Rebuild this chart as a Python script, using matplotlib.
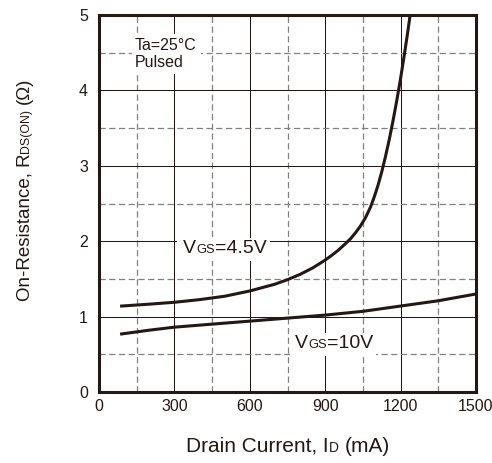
import matplotlib
matplotlib.use('Agg')
import matplotlib.pyplot as plt
from matplotlib.transforms import IdentityTransform
from matplotlib.patches import Rectangle

plt.rcParams['font.family'] = ['Liberation Sans', 'DejaVu Sans']
plt.rcParams['lines.scale_dashes'] = False

INK = '#231815'

# ---- data ----
id_45 = [90, 200, 300, 400, 500, 600, 700, 750, 800, 850, 900, 925, 950, 975,
         1000, 1020, 1040, 1060, 1080, 1095, 1110, 1125, 1140, 1155, 1170,
         1185, 1200, 1215, 1230, 1240]
r_45 = [1.14, 1.165, 1.19, 1.225, 1.27, 1.34, 1.43, 1.49, 1.56, 1.645, 1.75,
        1.81, 1.875, 1.95, 2.03, 2.11, 2.20, 2.31, 2.45, 2.585, 2.74, 2.92,
        3.125, 3.35, 3.60, 3.87, 4.16, 4.475, 4.81, 5.05]

id_10 = [90, 200, 300, 450, 600, 750, 900, 1050, 1200, 1350, 1500]
r_10 = [0.77, 0.82, 0.86, 0.90, 0.94, 0.98, 1.02, 1.07, 1.14, 1.21, 1.30]

x_major = [0, 300, 600, 900, 1200, 1500]
x_minor = [150, 450, 750, 1050, 1350]
y_major = [0, 1, 2, 3, 4, 5]
y_minor = [0.5, 1.5, 2.5, 3.5, 4.5]
x_ticklabels = ['0', '300', '600', '900', '1200', '1500']
y_ticklabels = ['0', '1', '2', '3', '4', '5']

# ---- figure ----
W, H = 492, 463
fig = plt.figure(figsize=(W / 100, H / 100), dpi=100)
ax = fig.add_axes([99 / W, 1 - 392 / H, 377 / W, 377 / H])
ax.set_xlim(0, 1500)
ax.set_ylim(0, 5)
ax.set_xticks(x_major)
ax.set_xticklabels(x_ticklabels)
ax.set_xticks(x_minor, minor=True)
ax.set_yticks(y_major)
ax.set_yticklabels(y_ticklabels)
ax.set_yticks(y_minor, minor=True)
ax.set_axisbelow(True)
ax.grid(which='major', color=INK, lw=0.75, ls='-')
ax.grid(which='minor', color='#808080', lw=0.9, ls=(0, (4.5, 2.5)))
ax.tick_params(which='both', length=0)
ax.tick_params(axis='x', pad=5, labelsize=11.5, colors=INK)
ax.tick_params(axis='y', pad=8, labelsize=11.5, colors=INK)
for s in ax.spines.values():
    s.set_linewidth(2.2)
    s.set_color(INK)

ax.plot(id_45, r_45, color=INK, lw=2.2, solid_joinstyle='round')
ax.plot(id_10, r_10, color=INK, lw=2.2, solid_joinstyle='round')

renderer = fig.canvas.get_renderer()


def rich(x, y, pieces, rotation=0, center=False):
    texts = []
    pos = 0.0
    for s, size, gap in pieces:
        pos += gap * size * fig.dpi / 72
        t = fig.text(0, 0, s, fontsize=size, color=INK, rotation=rotation,
                     rotation_mode='anchor', ha='left', va='baseline',
                     transform=IdentityTransform(), zorder=4)
        bb = t.get_window_extent(renderer)
        L = bb.height if rotation else bb.width
        texts.append((t, pos))
        pos += L
    start = -pos / 2 if center else 0.0
    for t, p in texts:
        if rotation:
            t.set_position((x, y + start + p))
        else:
            t.set_position((x + start + p, y))
    return [t for t, _ in texts]


def box(texts, pl, pr, pb, pt):
    bbs = [t.get_window_extent(renderer) for t in texts]
    x0 = min(b.x0 for b in bbs) - pl
    x1 = max(b.x1 for b in bbs) + pr
    y0 = min(b.y0 for b in bbs) - pb
    y1 = max(b.y1 for b in bbs) + pt
    fig.add_artist(Rectangle((x0, y0), x1 - x0, y1 - y0,
                             transform=IdentityTransform(),
                             facecolor='white', edgecolor='none', zorder=3))


def data_px(x, y):
    return ax.transData.transform((x, y))

# curve labels
SUB = 0.66
LS = 14
px, py = data_px(335, 1.84)
t45 = rich(px, py, [('V', LS, 0), ('GS', LS * SUB, 0), ('=4.5V', LS, 0)])
box(t45, 6, 3, 4, 2)

px, py = data_px(780, 0.58)
t10 = rich(px, py, [('V', LS, 0), ('GS', LS * SUB, 0), ('=10V', LS, 0)])
box(t10, 5, 3, 4, 2)

px, py = data_px(143, 4.54)
ta1 = rich(px, py, [('Ta=25°C', 11.5, 0)])
px, py = data_px(143, 4.31)
ta2 = rich(px, py, [('Pulsed', 11.5, 0)])
box(ta1 + ta2, 3, 4, 4, 4)

# axis labels
rich(288, H - 452, [('Drain Current, I', 15, 0), ('D', 15 * SUB, 0),
                    ('(mA)', 15, 0.278)], center=True)
rich(29, H - 189, [('On-Resistance, R', 13.5, 0), ('DS(ON)', 13.5 * SUB, 0),
                   ('(Ω)', 13.5, 0.278)], rotation=90, center=True)

fig.savefig('out.png', dpi=100, facecolor='white')
